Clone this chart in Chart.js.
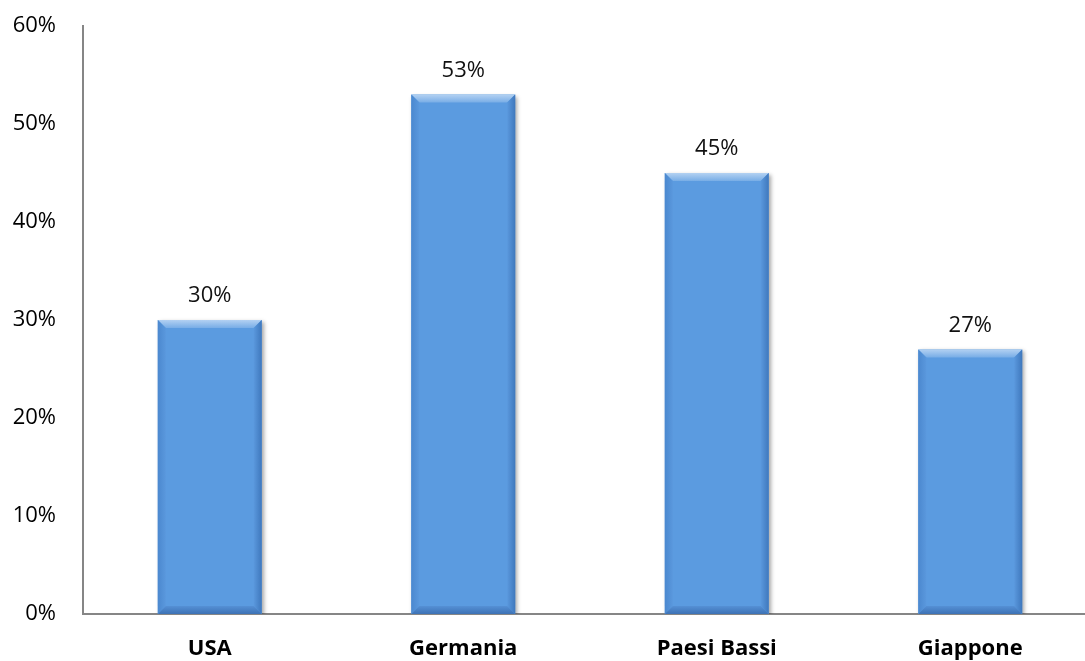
<!DOCTYPE html>
<html>
<head>
<meta charset="utf-8">
<script src="https://cdn.jsdelivr.net/npm/chart.js@4"></script>
<style>
  html, body { margin: 0; padding: 0; background: #fff; overflow: hidden; }
  #wrap { width: 1097px; height: 661px; position: relative; }
</style>
</head>
<body>
<div id="wrap"><canvas id="chart"></canvas></div>
<script>
// dati del grafico
const categories = ['USA', 'Germania', 'Paesi Bassi', 'Giappone'];
const values = [30, 53, 45, 27];
const yTicks = [0, 10, 20, 30, 40, 50, 60];

const FONT = "'Open Sans', 'Liberation Sans', sans-serif";

// effetto rilievo sulle barre
const bevelPlugin = {
  id: 'bevel',
  beforeDatasetDraw(chart) {
    const ctx = chart.ctx;
    ctx.shadowColor = 'rgba(0,0,0,0.35)';
    ctx.shadowBlur = 4;
    ctx.shadowOffsetX = 2;
    ctx.shadowOffsetY = 2;
  },
  afterDatasetDraw(chart) {
    const ctx = chart.ctx;
    ctx.shadowColor = 'transparent';
    ctx.shadowBlur = 0;
    ctx.shadowOffsetX = 0;
    ctx.shadowOffsetY = 0;
  },
  afterDatasetsDraw(chart) {
    const ctx = chart.ctx;
    const meta = chart.getDatasetMeta(0);
    ctx.save();
    meta.data.forEach((bar, i) => {
      const p = bar.getProps(['x', 'y', 'base', 'width'], true);
      const l = p.x - p.width / 2, r = p.x + p.width / 2;
      const t = p.y, b = p.base;
      const s = 8;
      const quad = (pts, color) => {
        ctx.beginPath();
        ctx.moveTo(pts[0][0], pts[0][1]);
        for (let k = 1; k < pts.length; k++) ctx.lineTo(pts[k][0], pts[k][1]);
        ctx.closePath();
        ctx.fillStyle = color;
        ctx.fill();
      };
      // top
      let g = ctx.createLinearGradient(0, t, 0, t + s);
      g.addColorStop(0, '#b3d1f2');
      g.addColorStop(1, '#78ade6');
      quad([[l, t], [r, t], [r - s, t + s], [l + s, t + s]], g);
      // left
      g = ctx.createLinearGradient(l, 0, l + s, 0);
      g.addColorStop(0, '#4b88cf');
      g.addColorStop(1, '#5a98dd');
      quad([[l, t], [l + s, t + s], [l + s, b - s], [l, b]], g);
      // right
      g = ctx.createLinearGradient(r - s, 0, r, 0);
      g.addColorStop(0, '#5a98dd');
      g.addColorStop(1, '#3f78bd');
      quad([[r, t], [r, b], [r - s, b - s], [r - s, t + s]], g);
      // bottom
      g = ctx.createLinearGradient(0, b - s, 0, b);
      g.addColorStop(0, '#5590d5');
      g.addColorStop(1, '#3d72b5');
      quad([[l, b], [l + s, b - s], [r - s, b - s], [r, b]], g);

      // etichetta valore
      ctx.fillStyle = '#111';
      ctx.font = '22px ' + FONT;
      ctx.textAlign = 'center';
      ctx.textBaseline = 'middle';
      ctx.fillText(values[i] + '%', p.x, t - 24);
    });
    ctx.restore();
  }
};

new Chart(document.getElementById('chart'), {
  type: 'bar',
  data: {
    labels: categories,
    datasets: [{
      data: values,
      backgroundColor: '#5b9be0',
      borderWidth: 0,
      barPercentage: 0.41,
      categoryPercentage: 1.0
    }]
  },
  options: {
    responsive: true,
    maintainAspectRatio: false,
    animation: false,
    layout: { padding: { top: 26, right: 0, left: 0, bottom: 0 } },
    plugins: { legend: { display: false }, tooltip: { enabled: false } },
    scales: {
      x: {
        grid: { display: false, drawTicks: false },
        border: { display: true, color: '#868686', width: 2 },
        ticks: {
          color: '#000',
          font: { family: FONT, size: 22, weight: 'bold' },
          padding: 22
        },
        afterFit(scale) {
          scale.height = 47;
          scale.paddingLeft = 0;
          scale.paddingRight = 0;
        }
      },
      y: {
        min: 0,
        max: 60,
        afterBuildTicks(scale) { scale.ticks = yTicks.map(v => ({ value: v })); },
        grid: { display: false, drawTicks: false },
        border: { display: true, color: '#868686', width: 2 },
        ticks: {
          color: '#000',
          font: { family: FONT, size: 22 },
          padding: 27,
          callback: v => v + '%'
        },
        afterFit(scale) {
          scale.width = 83;
          scale.paddingTop = 0;
          scale.paddingBottom = 0;
        }
      }
    }
  },
  plugins: [bevelPlugin]
});
</script>
</body>
</html>
